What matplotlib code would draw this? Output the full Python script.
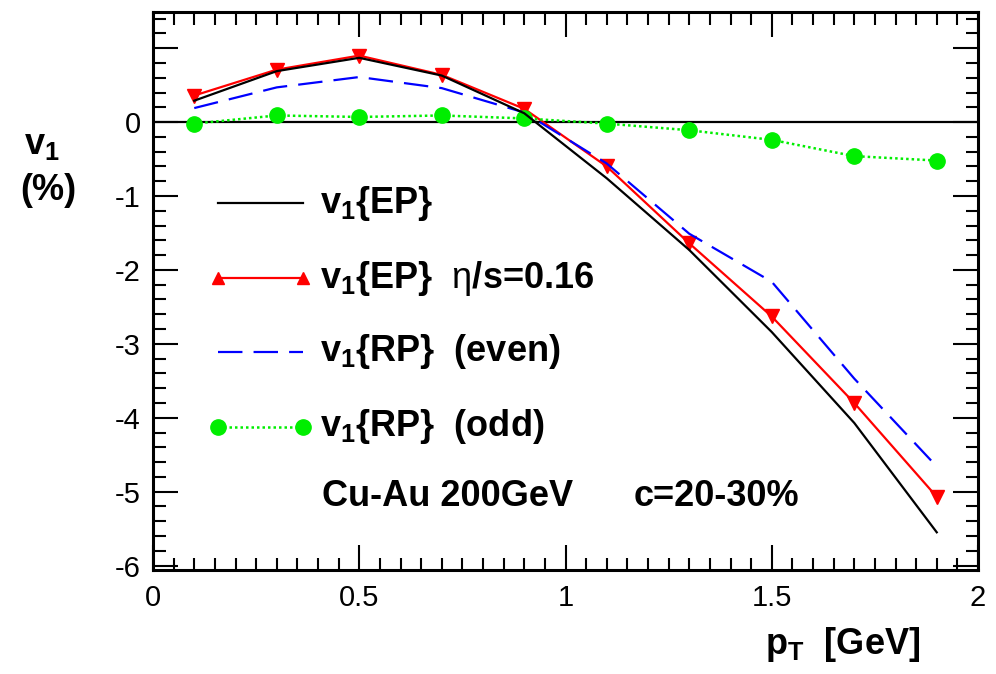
import matplotlib
matplotlib.use("Agg")
import matplotlib.pyplot as plt
from matplotlib.ticker import MultipleLocator, FixedLocator
import numpy as np

plt.rcParams['font.family'] = ['Liberation Sans', 'DejaVu Sans']
plt.rcParams['mathtext.fontset'] = 'custom'
plt.rcParams['mathtext.rm'] = 'Liberation Sans'
plt.rcParams['mathtext.bf'] = 'Liberation Sans:bold'
plt.rcParams['mathtext.it'] = 'Liberation Sans:italic'
plt.rcParams['axes.unicode_minus'] = False

# ---- data ----
pt = [0.1, 0.3, 0.5, 0.7, 0.9, 1.1, 1.3, 1.5, 1.7, 1.9]
v1_ep = [0.29, 0.69, 0.87, 0.63, 0.12, -0.76, -1.73, -2.84, -4.07, -5.55]
v1_ep_visc = [0.36, 0.71, 0.90, 0.64, 0.18, -0.60, -1.64, -2.63, -3.80, -5.07]
v1_rp_even = [0.19, 0.47, 0.61, 0.46, 0.13, -0.56, -1.51, -2.16, -3.47, -4.66]
v1_rp_odd = [-0.02, 0.09, 0.07, 0.09, 0.05, -0.02, -0.11, -0.24, -0.46, -0.52]

legend_labels = [r'v$_\mathbf{1}${EP}',
                 r'v$_\mathbf{1}${EP}  $\mathrm{\eta}$/s=0.16',
                 r'v$_\mathbf{1}${RP}  (even)',
                 r'v$_\mathbf{1}${RP}  (odd)']
ytick_vals = [-6, -5, -4, -3, -2, -1, 0, 1]
ytick_labels = ['-6', '-5', '-4', '-3', '-2', '-1', '0', '']
xtick_vals = [0, 0.5, 1, 1.5, 2]
xtick_labels = ['0', '0.5', '1', '1.5', '2']

W, H = 996, 674
fig = plt.figure(figsize=(W / 100, H / 100), dpi=100)
ax = fig.add_axes([153 / W, 1 - 570 / H, (978 - 153) / W, (570 - 12) / H])

ax.axhline(0, color='black', lw=1.6, zorder=1)

red = '#ff0000'
blue = '#0000ff'
green = '#00ee00'

ax.plot(pt, v1_ep, color='black', lw=1.6, zorder=3)
ax.plot(pt, v1_ep_visc, color=red, lw=1.6, marker='v', ms=10, zorder=2)
ax.plot(pt, v1_rp_even, color=blue, lw=1.6, dashes=(11, 5), zorder=2)
ax.plot(pt, v1_rp_odd, color=green, lw=1.8, dashes=(1, 1.2), marker='o', ms=11, zorder=2)

ax.set_xlim(0, 2)
ax.set_ylim(-6.06, 1.49)

ax.xaxis.set_major_locator(FixedLocator(xtick_vals))
ax.set_xticklabels(xtick_labels)
ax.xaxis.set_minor_locator(MultipleLocator(0.05))
ax.yaxis.set_major_locator(FixedLocator(ytick_vals))
ax.set_yticklabels(ytick_labels)
ax.yaxis.set_minor_locator(MultipleLocator(0.2))

ax.tick_params(which='both', direction='in', top=True, right=True, width=1.5, colors='black')
ax.tick_params(which='major', length=18, labelsize=21)
ax.tick_params(which='minor', length=9)
ax.tick_params(axis='x', pad=10)
ax.tick_params(axis='y', pad=9)
for s in ax.spines.values():
    s.set_linewidth(2.2)

# ---- manual legend ----
leg_x = [0.158, 0.364]
leg_y = [-1.10, -2.11, -3.11, -4.12]
ax.plot(leg_x, [leg_y[0]] * 2, color='black', lw=1.6)
ax.plot(leg_x, [leg_y[1]] * 2, color=red, lw=1.6, marker='^', ms=9)
ax.plot(leg_x, [leg_y[2]] * 2, color=blue, lw=1.6, dashes=(11, 5))
ax.plot(leg_x, [leg_y[3]] * 2, color=green, lw=1.8, dashes=(1, 1.2), marker='o', ms=11)
for yv, lab in zip(leg_y, legend_labels):
    ax.text(0.405, yv, lab, fontsize=26, fontweight='bold', va='center', ha='left')

ax.text(0.41, -5.07, 'Cu-Au 200GeV', fontsize=26, fontweight='bold', va='center', ha='left')
ax.text(1.165, -5.07, 'c=20-30%', fontsize=26, fontweight='bold', va='center', ha='left')

# axis labels
fig.text(42 / W, 1 - 145 / H, r'v$_\mathbf{1}$', fontsize=26, fontweight='bold', ha='center', va='center')
fig.text(48 / W, 1 - 190 / H, '(%)', fontsize=26, fontweight='bold', ha='center', va='center')
fig.text(920 / W, 1 - 654 / H, r'p$_\mathbf{T}$  [GeV]', fontsize=26, fontweight='bold', ha='right', va='baseline')

fig.savefig('out.png', dpi=100)
